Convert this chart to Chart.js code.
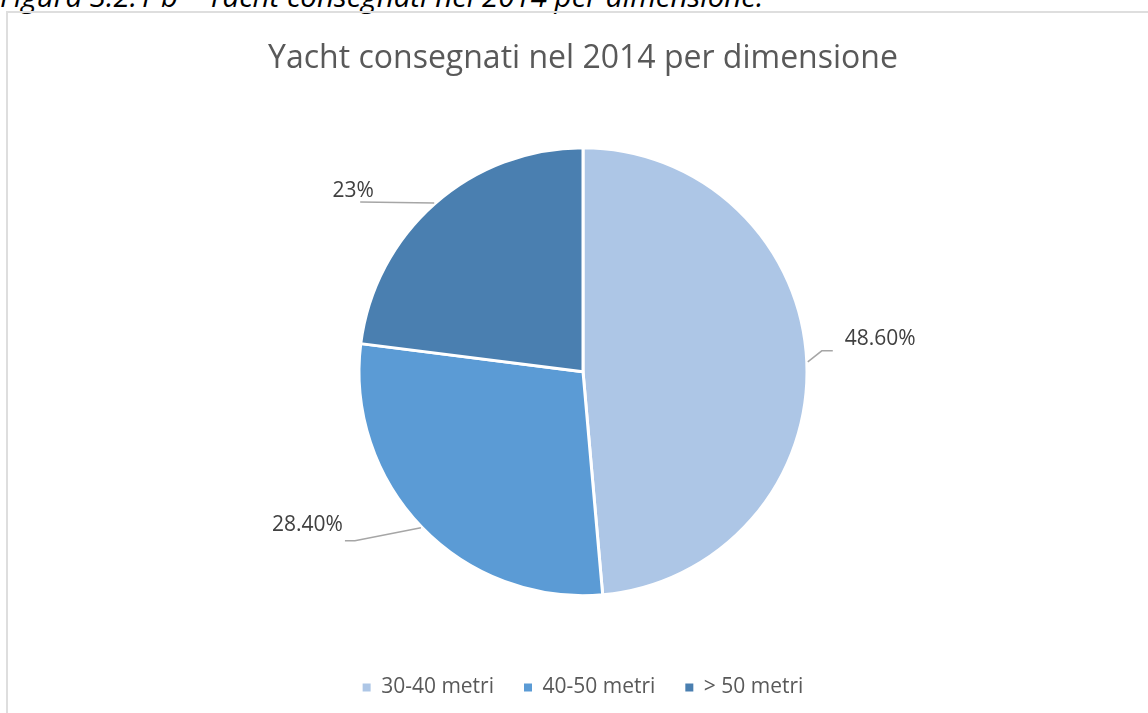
<!DOCTYPE html>
<html>
<head>
<meta charset="utf-8">
<script src="https://cdn.jsdelivr.net/npm/chart.js@4.4.0/dist/chart.umd.min.js"></script>
<style>
  html, body { margin: 0; padding: 0; background: #fff; overflow: hidden; }
  body { width: 1148px; height: 713px; position: relative; }
  .caption {
    position: absolute; left: 0; top: -25px;
    font: italic 29.5px "Open Sans", sans-serif; color: #000; white-space: nowrap;
  }
  .frame {
    position: absolute; left: 6px; top: 11px; width: 1154px; height: 720px;
    border: 2px solid #dedede; box-sizing: border-box;
  }
  .chart { position: absolute; left: 0; top: 0; width: 1150px; height: 700px; }
</style>
</head>
<body>
<div class="caption">Figura 3.2.1 b – Yacht consegnati nel 2014 per dimensione.</div>
<div class="frame">
  <div class="chart"><canvas id="pie"></canvas></div>
</div>
<script>
const categories = ['30-40 metri', '40-50 metri', '> 50 metri'];
const shares = [48.6, 28.4, 23];
const shareLabels = ['48.60%', '28.40%', '23%'];
const sliceColors = ['#adc6e6', '#5b9bd5', '#4a7fb0'];

// leader line + label placement, offsets from the slice's mid point on the rim
const leaders = [
  { bend: [14, -11], end: [25, -11], text: [37, -23], align: 'left' },
  { bend: [-66, 13], end: [-76, 13], text: [-78, -3], align: 'right' },
  { bend: [-74, -1], end: [-74, -1], text: [-81, -12], align: 'center' }
];

const sliceLabels = {
  id: 'sliceLabels',
  afterDatasetsDraw(chart) {
    const ctx = chart.ctx;
    const arcs = chart.getDatasetMeta(0).data;
    ctx.save();
    arcs.forEach((arc, i) => {
      const p = arc.getProps(['x', 'y', 'startAngle', 'endAngle', 'outerRadius'], true);
      const mid = (p.startAngle + p.endAngle) / 2;
      const ox = p.x + Math.cos(mid) * (p.outerRadius + 1);
      const oy = p.y + Math.sin(mid) * (p.outerRadius + 1);
      const l = leaders[i];
      ctx.strokeStyle = '#a6a6a6';
      ctx.lineWidth = 1.5;
      ctx.beginPath();
      ctx.moveTo(ox, oy);
      ctx.lineTo(ox + l.bend[0], oy + l.bend[1]);
      ctx.lineTo(ox + l.end[0], oy + l.end[1]);
      ctx.stroke();
      ctx.fillStyle = '#404040';
      ctx.font = '21px "Open Sans"';
      ctx.textAlign = l.align;
      ctx.textBaseline = 'middle';
      ctx.fillText(shareLabels[i], ox + l.text[0], oy + l.text[1]);
    });
    ctx.restore();
  }
};

new Chart(document.getElementById('pie'), {
  type: 'pie',
  data: {
    labels: categories,
    datasets: [{
      data: shares,
      backgroundColor: sliceColors,
      borderColor: '#ffffff',
      borderWidth: 3,
      hoverOffset: 0
    }]
  },
  plugins: [sliceLabels],
  options: {
    responsive: true,
    maintainAspectRatio: false,
    animation: false,
    radius: 224,
    layout: { padding: { top: 0, bottom: 5 } },
    plugins: {
      title: {
        display: true,
        text: 'Yacht consegnati nel 2014 per dimensione',
        color: '#595959',
        font: { family: '"Open Sans"', size: 32, weight: 'normal' },
        padding: { top: 27, bottom: 18 }
      },
      legend: {
        position: 'bottom',
        labels: {
          color: '#595959',
          font: { family: '"Open Sans"', size: 21 },
          boxWidth: 8,
          boxHeight: 8,
          padding: 30,
          generateLabels(chart) {
            return Chart.overrides.pie.plugins.legend.labels.generateLabels(chart)
              .map(item => Object.assign(item, { lineWidth: 0 }));
          }
        }
      },
      tooltip: { enabled: false }
    }
  }
});
</script>
</body>
</html>
